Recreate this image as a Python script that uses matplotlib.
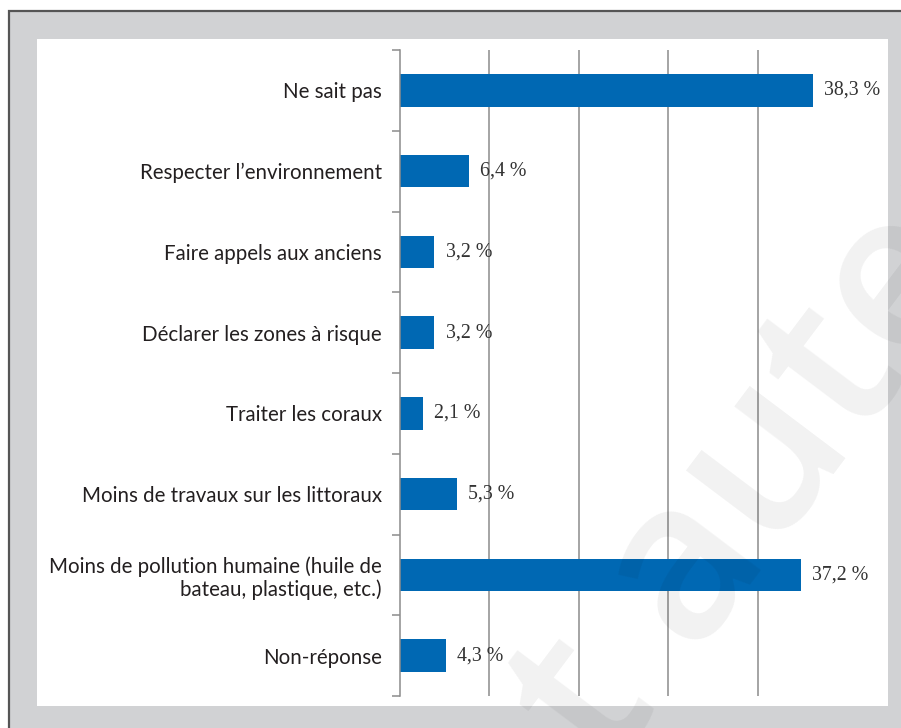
import matplotlib
matplotlib.use("Agg")
import matplotlib.pyplot as plt
from matplotlib.patches import Rectangle

categories = [
    "Ne sait pas",
    "Respecter l\u2019environnement",
    "Faire appels aux anciens",
    "Déclarer les zones à risque",
    "Traiter les coraux",
    "Moins de travaux sur les littoraux",
    "Moins de pollution humaine (huile de\nbateau, plastique, etc.)",
    "Non-réponse",
]
values = [38.3, 6.4, 3.2, 3.2, 2.1, 5.3, 37.2, 4.3]
value_labels = ["38,3 %", "6,4 %", "3,2 %", "3,2 %", "2,1 %", "5,3 %", "37,2 %", "4,3 %"]
grid_values = [8.3, 16.6, 24.9, 33.2]
watermark = "t auteur"

W, H = 901, 728
fig = plt.figure(figsize=(W / 100, H / 100), dpi=100)
fig.patch.set_facecolor("white")

def fx(px):
    return px / W

def fy(py):
    return 1 - py / H

# outer gray frame
fig.patches.append(Rectangle((fx(9), fy(800)), fx(1000) - fx(9), fy(11) - fy(800),
                             transform=fig.transFigure, facecolor="#d1d2d4",
                             edgecolor="#555555", linewidth=1.6, zorder=0))
# white panel
fig.patches.append(Rectangle((fx(37), fy(705.7)), fx(888) - fx(37), fy(39.3) - fy(705.7),
                             transform=fig.transFigure, facecolor="white",
                             edgecolor="none", zorder=0.5))

ax_left, ax_right, ax_top, ax_bottom = 400, 888, 50, 696
ax = fig.add_axes([fx(ax_left), fy(ax_bottom), fx(ax_right) - fx(ax_left), fy(ax_top) - fy(ax_bottom)])
ax.set_zorder(3)
ax.set_facecolor("none")
px_per_unit = 10.775
ax.set_xlim(0, (ax_right - ax_left) / px_per_unit)
n = len(categories)
ax.set_ylim(n - 0.5, -0.5)

grid_color = "#8c8c8c"
for g in grid_values:
    ax.axvline(g, color=grid_color, linewidth=1.1, zorder=1)

ypos = list(range(n))
ax.barh(ypos, values, height=0.405, color="#0068b3", zorder=2)

for y, v, lab in zip(ypos, values, value_labels):
    ax.annotate(lab, xy=(v, y), xytext=(8, 0), textcoords="offset points",
                va="center", ha="left", fontsize=14.3, color="#333333",
                family="Liberation Serif", zorder=3)

for s in ["top", "right", "bottom"]:
    ax.spines[s].set_visible(False)
ax.spines["left"].set_color(grid_color)
ax.spines["left"].set_linewidth(1.1)

ax.set_xticks([])
ax.set_yticks(ypos)
ax.set_yticklabels(categories, fontsize=14.8, color="#231f20", family="Lato")
ax.tick_params(axis="y", which="major", length=0, pad=13)
ax.set_yticks([i - 0.5 for i in range(n + 1)], minor=True)
ax.tick_params(axis="y", which="minor", length=6, width=1.1, color=grid_color, direction="out")
for t in ax.get_yticklabels():
    t.set_multialignment("right")
    t.set_linespacing(1.15)

# faint diagonal watermark
fig.text(fx(607), fy(775), watermark, rotation=53, rotation_mode="anchor",
         ha="left", va="baseline", fontsize=160, family="Open Sans",
         fontweight="semibold", color="black", alpha=0.055, zorder=10)

fig.savefig("out.png", dpi=100)
